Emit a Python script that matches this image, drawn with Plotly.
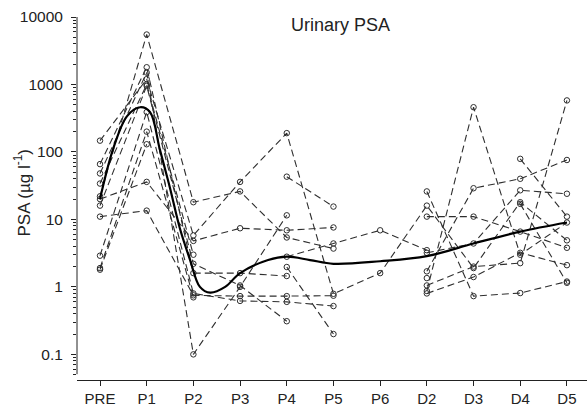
import plotly.graph_objects as go

# Time-point categories (tick labels)
categories = ["PRE", "P1", "P2", "P3", "P4", "P5", "P6", "D2", "D3", "D4", "D5"]

# Individual patients (urinary PSA, ug/l); None = not measured
pt_a = [22, 5500, 18, 26, 5.4, 3.7, None, 1.7, 29, 40, 76]
pt_b = [147, 1200, 5.8, 36, 190, 0.79, 1.6, 16, 1.9, 18, 4.9]
pt_c = [11, 13.5, 0.75, 0.73, 0.73, 0.74, None, 26, 0.73, 0.81, 1.2]
pt_d = [20, 36, 4.8, 7.4, 6.9, 7.6, None, 11, 11, 6.6, 3.8]
pt_e = [66, 1800, 1.6, 1.6, 1.45, None, None, 0.87, 460, 3.0, 9]
pt_f = [48, 1500, 0.1, 1.0, 11.5, None, None, 3.2, 4.4, 27, 24]
pt_g = [34, 1000, 3.0, None, 43, 15.5, None, 1.35, None, 79, 11]
pt_h = [16, 950, 2.2, 1.05, 0.31, None, None, 1.05, 2.0, 2.25, 580]
pt_i = [2.9, 390, 0.8, 0.62, 0.6, 0.52, None, 0.8, 1.4, 3.2, 2.1]
pt_j = [1.9, 200, 0.7, None, 1.97, 0.2, None, None, None, None, None]
pt_k = [1.8, 130, None, None, 2.8, 4.4, 6.9, 3.5, None, 17, 1.15]
patients = [pt_a, pt_b, pt_c, pt_d, pt_e, pt_f, pt_g, pt_h, pt_i, pt_j, pt_k]

# Smoothed group curve (position in category units, value)
smooth_x = [0, 0.28, 0.58, 0.86, 1.07, 1.28, 1.5, 1.71, 1.93, 2.14, 2.36, 2.68,
            3.0, 3.6, 4.0, 4.5, 5.0, 6.0, 7.0, 8.0, 9.0, 10.0]
smooth_y = [20, 110, 340, 460, 390, 110, 29, 7.4, 2.5, 1.0, 0.82, 1.0,
            1.6, 2.5, 2.8, 2.5, 2.2, 2.4, 2.85, 4.4, 6.6, 9]

ytick_vals = [0.1, 1, 10, 100, 1000, 10000]
ytick_text = ["0.1", "1", "10", "100", "1000", "10000"]

FONT = "Liberation Sans, Arial, sans-serif"
INK = "#222222"

fig = go.Figure()
xs = list(range(len(categories)))
for p in patients:
    fig.add_trace(go.Scatter(
        x=xs, y=p, mode="lines+markers", connectgaps=False,
        line=dict(color="#2e2e2e", width=1.1, dash="7px,4px"),
        marker=dict(symbol="circle-open", size=5.5, color="#2e2e2e",
                    line=dict(width=1)),
        showlegend=False, hoverinfo="skip"))

fig.add_trace(go.Scatter(
    x=smooth_x, y=smooth_y, mode="lines",
    line=dict(color="black", width=2.2, shape="spline", smoothing=1.0),
    showlegend=False, hoverinfo="skip"))

fig.update_layout(
    width=587, height=407,
    margin=dict(l=77, r=0, t=17, b=24),
    paper_bgcolor="white", plot_bgcolor="white",
    font=dict(family=FONT, size=15, color=INK),
    xaxis=dict(
        range=[-0.4925, 10.43], tickmode="array", tickvals=xs,
        ticktext=categories, showgrid=False, zeroline=False,
        showline=True, linecolor=INK, linewidth=1,
        ticks="outside", ticklen=5, tickcolor=INK,
        tickfont=dict(size=15, family=FONT, color=INK)),
    yaxis=dict(
        type="log", range=[-1.38, 4.0], tickmode="array",
        tickvals=ytick_vals, ticktext=ytick_text,
        showgrid=False, zeroline=False, showline=False,
        ticks="outside", ticklen=5, tickcolor=INK,
        ticklabelstandoff=5,
        tickfont=dict(size=15.5, family=FONT, color=INK),
        minor=dict(ticks="outside", ticklen=3, tickcolor=INK, dtick="D1",
                   showgrid=False)),
    shapes=[dict(type="line", xref="paper", yref="paper",
                 x0=0, x1=0, y0=0.016, y1=1.0,
                 line=dict(color=INK, width=1))],
    annotations=[
        dict(text="Urinary PSA", xref="paper", yref="paper",
             x=(340 - 77) / 510, y=(383 - 25) / 366, showarrow=False,
             font=dict(size=18, family=FONT, color=INK),
             xanchor="center", yanchor="middle"),
        dict(text="PSA (\u00b5g l<sup>-1</sup>)", xref="paper", yref="paper",
             x=(22 - 77) / 510, y=(383 - 195) / 366, showarrow=False,
             textangle=-90, font=dict(size=17, family=FONT, color=INK),
             xanchor="center", yanchor="middle"),
    ],
)

fig.write_html(
    "out.html",
    config={"displayModeBar": False},
    post_script="document.body.style.margin='0';document.body.style.overflow='hidden';",
)
